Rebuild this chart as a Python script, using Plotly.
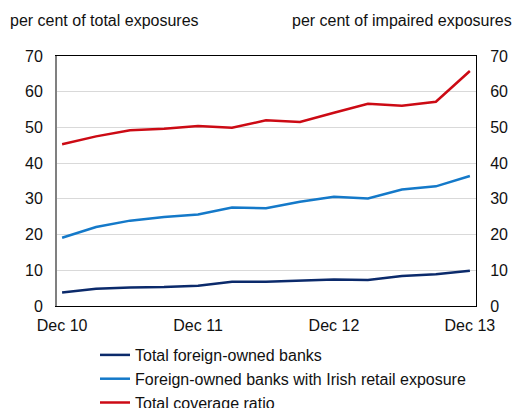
import plotly.graph_objects as go

quarters = ["Dec 10", "Mar 11", "Jun 11", "Sep 11", "Dec 11", "Mar 12", "Jun 12",
            "Sep 12", "Dec 12", "Mar 13", "Jun 13", "Sep 13", "Dec 13"]
tick_labels = ["Dec 10", "Dec 11", "Dec 12", "Dec 13"]
total_foreign = [3.8, 4.8, 5.2, 5.3, 5.7, 6.8, 6.8, 7.2, 7.4, 7.3, 8.4, 8.9, 9.9]
irish_retail = [19.1, 22.1, 23.9, 24.9, 25.6, 27.6, 27.4, 29.2, 30.6, 30.1, 32.6, 33.5, 36.4]
coverage = [45.3, 47.5, 49.2, 49.6, 50.4, 49.9, 52.0, 51.5, 54.1, 56.6, 56.1, 57.2, 65.8]

xs = list(range(len(quarters)))
tick_vals = [quarters.index(t) for t in tick_labels]

FONT = "Liberation Sans, Arial, sans-serif"
PW, PH = 419, 250
fig = go.Figure()
fig.add_trace(go.Scatter(x=xs, y=total_foreign, mode="lines", name="Total foreign-owned banks",
                         line=dict(color="#0b2a6b", width=2.5), legendgroup="a"))
fig.add_trace(go.Scatter(x=xs, y=irish_retail, mode="lines",
                         name="Foreign-owned banks with Irish retail exposure",
                         line=dict(color="#1479c9", width=2.5), legendgroup="b"))
fig.add_trace(go.Scatter(x=xs, y=coverage, mode="lines", name="Total coverage ratio",
                         line=dict(color="#cc0a14", width=2.5), legendgroup="c", yaxis="y2"))

fig.update_layout(
    width=520, height=408,
    margin=dict(l=57, r=44, t=56, b=102, autoexpand=False),
    paper_bgcolor="white", plot_bgcolor="white",
    font=dict(family=FONT, size=16, color="#111111"),
    showlegend=True,
    legend=dict(x=(95 - 57) / PW, xanchor="left", y=-(338 - 306) / PH, yanchor="top",
                orientation="v", font=dict(size=16), tracegroupgap=0,
                bgcolor="rgba(0,0,0,0)"),
    xaxis=dict(range=[-0.15, 12.18], tickvals=tick_vals, ticktext=tick_labels,
               showgrid=False, zeroline=False, showline=True, linecolor="black",
               linewidth=1, mirror=True, ticks="", tickfont=dict(size=16), automargin=False,
               ticklabelstandoff=5),
    yaxis=dict(range=[0, 70], dtick=10, showgrid=True, gridcolor="#d9d9d9", gridwidth=1,
               zeroline=False, showline=True, linecolor="#808080", linewidth=2,
               ticks="", tickfont=dict(size=16), automargin=False, ticklabelstandoff=9),
    yaxis2=dict(range=[0, 70], dtick=10, overlaying="y", side="right", showgrid=False,
                zeroline=False, showline=True, linecolor="black", linewidth=1,
                ticks="", tickfont=dict(size=16), automargin=False, ticklabelstandoff=10),
)
fig.add_annotation(text="per cent of total exposures", xref="paper", yref="paper",
                   x=(8 - 57) / PW, xanchor="left", y=1 + (56 - 20) / PH, yanchor="middle",
                   showarrow=False, font=dict(size=16))
fig.add_annotation(text="per cent of impaired exposures", xref="paper", yref="paper",
                   x=(514 - 57) / PW, xanchor="right", y=1 + (56 - 20) / PH, yanchor="middle",
                   showarrow=False, font=dict(size=16))
fig.write_html("out.html", config={"displayModeBar": False},
               post_script="document.body.style.margin='0px';document.body.style.overflow='hidden';")
